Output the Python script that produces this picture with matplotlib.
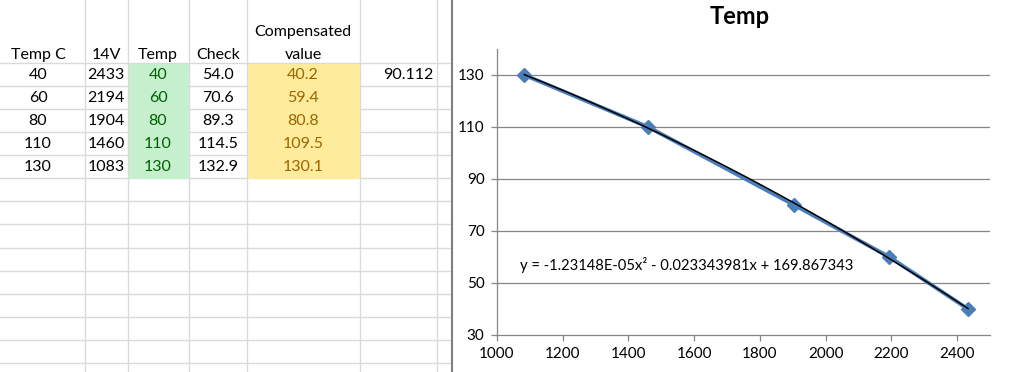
import matplotlib
matplotlib.use('Agg')
import matplotlib.pyplot as plt
from matplotlib.patches import Rectangle
import numpy as np

plt.rcParams['font.family'] = ['Lato', 'DejaVu Sans']

# spreadsheet values
headers = ['Temp C', '14V', 'Temp', 'Check', 'value']
header_top = 'Compensated'
temp_c = ['40', '60', '80', '110', '130']
adc_14v = ['2433', '2194', '1904', '1460', '1083']
temp = ['40', '60', '80', '110', '130']
check = ['54.0', '70.6', '89.3', '114.5', '132.9']
compensated = ['40.2', '59.4', '80.8', '109.5', '130.1']
extra_value = '90.112'

# chart series
chart_x = [1083, 1460, 1904, 2194, 2433]
chart_y = [130, 110, 80, 60, 40]
trend_coef = [-1.23148e-05, -0.023343981, 169.867343]
trend_label = 'y = -1.23148E-05x\u00b2 - 0.023343981x + 169.867343'
x_ticks = [1000, 1200, 1400, 1600, 1800, 2000, 2200, 2400]
y_ticks = [30, 50, 70, 90, 110, 130]

fig = plt.figure(figsize=(10.24, 3.72), dpi=100)

## the sheet on the left, in pixel coords
sh = fig.add_axes([0, 0, 451 / 1024, 1])
sh.set_xlim(0, 451)
sh.set_ylim(372, 0)
sh.axis('off')

grid_c = '#dadada'
for xv in [85, 128, 189, 247, 360, 437]:
    sh.axvline(xv, color=grid_c, lw=1.0, zorder=1)
for k in range(14):
    sh.axhline(63 + 23.07 * k, color=grid_c, lw=1.0, zorder=1)

sh.add_patch(Rectangle((128.5, 63.5), 60, 115.5, facecolor='#c6efce', edgecolor='none', zorder=2))
sh.add_patch(Rectangle((247.5, 63.5), 112, 115.5, facecolor='#ffeb9c', edgecolor='none', zorder=2))

cols = [temp_c, adc_14v, temp, check, compensated]
centers = [38, 106, 158, 218, 303]
colors = ['black', 'black', '#006100', 'black', '#9c6500']
fs = 11.5
for i, h in enumerate(headers):
    sh.text(centers[i], 59, h, ha='center', va='baseline', fontsize=fs, zorder=3)
sh.text(centers[4], 36, header_top, ha='center', va='baseline', fontsize=fs, zorder=3)
for c, vals in enumerate(cols):
    for r, v in enumerate(vals):
        sh.text(centers[c], 75 + 23.07 * r, v, ha='center', va='center',
                fontsize=fs, color=colors[c], zorder=3)
sh.text(433, 75, extra_value, ha='right', va='center', fontsize=fs, zorder=3)

# chart frame edge
fig.add_artist(plt.Line2D([451.5 / 1024, 451.5 / 1024], [0, 1], color='#7f7f7f', lw=1.5))

## chart
ax = fig.add_axes([497 / 1024, (372 - 335) / 372, (990 - 497) / 1024, (335 - 49) / 372])
ax.plot(chart_x, chart_y, color='#4a7ebb', lw=2.8, marker='D', markersize=7.5,
        markeredgecolor='#4a7ebb', zorder=3)
xs = np.linspace(min(chart_x), max(chart_x), 200)
ax.plot(xs, np.polyval(trend_coef, xs), color='black', lw=1.1, zorder=4)

ax.set_xlim(1000, 2500)
ax.set_ylim(30, 140)
ax.set_xticks(x_ticks)
ax.set_yticks(y_ticks)
for yv in y_ticks[1:]:
    ax.axhline(yv, color='#868686', lw=0.9, zorder=1)
for s in ['top', 'right']:
    ax.spines[s].set_visible(False)
for s in ['left', 'bottom']:
    ax.spines[s].set_color('#868686')
    ax.spines[s].set_linewidth(0.9)
ax.tick_params(axis='both', color='#868686', length=4, width=0.9, labelsize=11, pad=5)
ax.text(1070, 57, trend_label, fontsize=10.6, va='center', ha='left')

fig.text(740 / 1024, 1 - 17 / 372, 'Temp', ha='center', va='center', fontsize=17, fontweight='bold')

fig.savefig('out.png', dpi=100)
